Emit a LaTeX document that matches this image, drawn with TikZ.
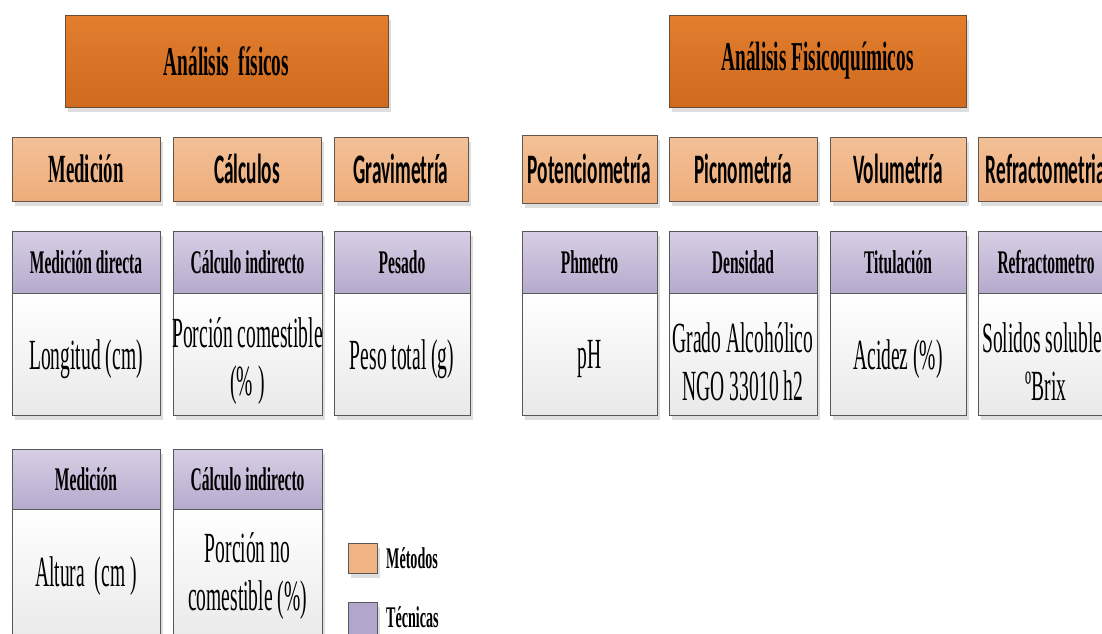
\documentclass[tikz,border=0pt]{standalone}
\usepackage{fontspec}
\usetikzlibrary{shadows}

% condensed faces used throughout the chart
\newfontfamily\condserif[FakeStretch=0.47]{Liberation Serif}
\newfontfamily\bodyserif[FakeStretch=0.455]{Liberation Serif}
\newfontfamily\condsans[FakeStretch=0.46]{Carlito}

\definecolor{titletop}{RGB}{226,126,46}
\definecolor{titlebot}{RGB}{207,106,30}
\definecolor{titleedge}{RGB}{105,78,52}
\definecolor{methtop}{RGB}{243,193,151}
\definecolor{methbot}{RGB}{238,172,122}
\definecolor{methedge}{RGB}{100,88,78}
\definecolor{techtop}{RGB}{215,207,228}
\definecolor{techbot}{RGB}{182,170,205}
\definecolor{bodybot}{RGB}{233,233,233}
\definecolor{edgegray}{RGB}{88,88,88}
\definecolor{shadowgray}{RGB}{222,222,222}
\definecolor{legmeth}{RGB}{240,180,132}
\definecolor{legtech}{RGB}{178,166,204}

\tikzset{
  x=1pt, y=-1pt,
  base/.style={draw=edgegray, line width=0.9pt, inner sep=0pt, outer sep=0pt,
    anchor=north west, align=center,
    drop shadow={shadow xshift=3pt, shadow yshift=-5pt, fill=shadowgray, opacity=1}},
  titlebox/.style={base, draw=titleedge, top color=titletop, bottom color=titlebot,
    minimum height=92pt,
    font={\condserif\bfseries\fontsize{41pt}{44pt}\selectfont}},
  methodbox/.style={base, draw=methedge, top color=methtop, bottom color=methbot,
    minimum height=64pt,
    font={\condsans\bfseries\fontsize{42pt}{44pt}\selectfont}},
  methodserif/.style={font={\condserif\bfseries\fontsize{40pt}{44pt}\selectfont}},
  techhead/.style={base, top color=techtop, bottom color=techbot,
    minimum height=62pt,
    font={\condserif\bfseries\fontsize{33pt}{36pt}\selectfont}},
  techbody/.style={base, top color=white, bottom color=bodybot,
    minimum height=122pt},
  bodytext/.style={inner sep=0pt, align=center,
    font={\bodyserif\fontsize{43pt}{48pt}\selectfont}},
  legendsq/.style={base, minimum width=29pt, minimum height=30pt},
  legendtxt/.style={anchor=west, inner sep=0pt,
    font={\condserif\bfseries\fontsize{30pt}{32pt}\selectfont}}
}

\begin{document}
\begin{tikzpicture}
\useasboundingbox (0,0) rectangle (1102,633);
\clip (0,0) rectangle (1102,633);

% group titles
\node[titlebox, minimum width=323pt] (tfis) at (65,15) {Análisis\ \ físicos};
\node[titlebox, minimum width=297pt] (tfq) at (669,15) {Análisis Fisicoquímicos};

% methods
\node[methodbox, methodserif, minimum width=148pt] (mmed) at (12,137) {Medición};
\node[methodbox, minimum width=148pt] (mcal) at (173,137) {Cálculos};
\node[methodbox, minimum width=134pt] (mgra) at (334,137) {Gravimetría};
\node[methodbox, minimum width=135pt, minimum height=68pt] (mpot) at (522,135) {Potenciometría};
\node[methodbox, minimum width=148pt] (mpic) at (669,137) {Picnometría};
\node[methodbox, minimum width=136pt] (mvol) at (830,137) {Volumetría};
\node[methodbox, minimum width=136pt] (mref) at (978,137) {Refractometria};

% techniques, first row: header cells
\node[techhead, minimum width=148pt] (hmd) at (12,231) {Medición directa};
\node[techhead, minimum width=149pt] (hci) at (173,231) {Cálculo indirecto};
\node[techhead, minimum width=136pt] (hpe) at (334,231) {Pesado};
\node[techhead, minimum width=135pt] (hph) at (522,231) {Phmetro};
\node[techhead, minimum width=148pt] (hde) at (669,231) {Densidad};
\node[techhead, minimum width=136pt] (hti) at (830,231) {Titulación};
\node[techhead, minimum width=136pt] (hre) at (978,231) {Refractometro};

% techniques, first row: body cells
\node[techbody, minimum width=148pt] (bmd) at (12,293) {};
\node[techbody, minimum width=149pt] (bci) at (173,293) {};
\node[techbody, minimum width=136pt] (bpe) at (334,293) {};
\node[techbody, minimum width=135pt] (bph) at (522,293) {};
\node[techbody, minimum width=148pt] (bde) at (669,293) {};
\node[techbody, minimum width=136pt] (bti) at (830,293) {};
\node[techbody, minimum width=136pt] (bre) at (978,293) {};

\node[bodytext] (xmd) at ([yshift=-5pt]bmd.center) {Longitud (cm)};
\node[bodytext] (xci) at ([yshift=-7pt]bci.center) {Porción comestible\\(\% )};
\node[bodytext] (xpe) at ([yshift=-5pt]bpe.center) {Peso total (g)};
\node[bodytext] (xph) at ([yshift=-5pt]bph.center) {pH};
\node[bodytext] (xde) at ([yshift=-8pt]bde.center) {Grado Alcohólico\\NGO 33010 h2};
\node[bodytext] (xti) at ([yshift=-5pt]bti.center) {Acidez (\%)};
\node[bodytext] (xre) at ([yshift=-8pt]bre.center) {Solidos solubles\\ºBrix};

% techniques, second row
\node[techhead, minimum width=148pt, minimum height=60pt] (hme2) at (12,449) {Medición};
\node[techhead, minimum width=149pt, minimum height=60pt] (hci2) at (173,449) {Cálculo indirecto};
\node[techbody, minimum width=148pt, minimum height=132pt] (bme2) at (12,509) {};
\node[techbody, minimum width=149pt, minimum height=132pt] (bci2) at (173,509) {};
\node[bodytext] (xme2) at ([yshift=-1pt]bme2.center) {Altura\ \ (cm )};
\node[bodytext] (xci2) at ([yshift=-1pt]bci2.center) {Porción no\\comestible (\%)};

% legend
\node[legendsq, fill=legmeth] (lm) at (348,543) {};
\node[legendtxt] (lmt) at (386,558) {Métodos};
\node[legendsq, fill=legtech, minimum height=36pt] (lt) at (348,602) {};
\node[legendtxt] (ltt) at (386,617) {Técnicas};
\end{tikzpicture}
\end{document}
